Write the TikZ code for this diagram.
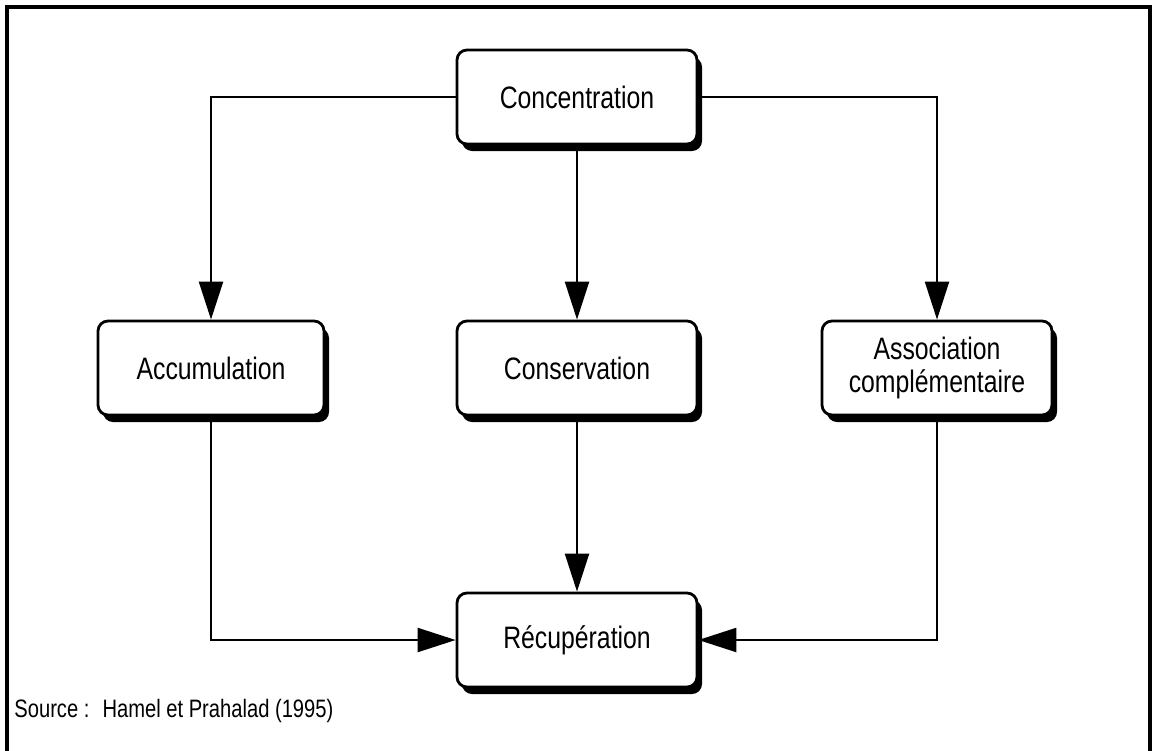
\documentclass[tikz,border=0pt]{standalone}
\usepackage{fontspec}
\setmainfont{Liberation Sans}[FakeStretch=0.8]
\usetikzlibrary{arrows.meta,shadows}

\tikzset{
  box/.style={draw, line width=1.4pt, rounded corners=5pt, fill=white, align=center,
    minimum width=120pt, minimum height=47pt,
    font=\fontsize{15.5}{16.5}\selectfont,
    drop shadow={shadow xshift=2.5pt, shadow yshift=-3.5pt, fill=black, opacity=1}},
  link/.style={line width=1.1pt, -{Triangle[length=19pt,width=12pt]}}
}

\begin{document}
\begin{tikzpicture}[x=0.5pt,y=-0.5pt]
      \useasboundingbox (0,0) rectangle (1155,750);
      % frame, open at the bottom
      \draw[line width=1.8pt] (7,770) -- (7,7) -- (1150,7) -- (1150,770);
      \draw
        (577,97) node[box] (conc){Concentration}
        (211,368) node[box, minimum width=113pt] (accu){Accumulation}
        (577,368) node[box] (cons){Conservation}
        (937,368) node[box, minimum width=115pt] (asso){Association\\complémentaire}
        (577,640) node[box] (recu){Récupération};
      \begin{scope}[link]
        \draw (conc.west) -| (accu.north);
        \draw (conc.south) to (cons.north);
        \draw (conc.east) -| (asso.north);
        \draw (cons.south) to (recu.north);
        \draw (accu.south) |- (recu.west);
        \draw (asso.south) |- (recu.east);
      \end{scope}
      \node[anchor=base west, inner sep=0pt, font=\fontsize{12.6}{14}\selectfont] (src) at (14,717)
        {Source :~ Hamel et Prahalad (1995)};
    \end{tikzpicture}
\end{document}
